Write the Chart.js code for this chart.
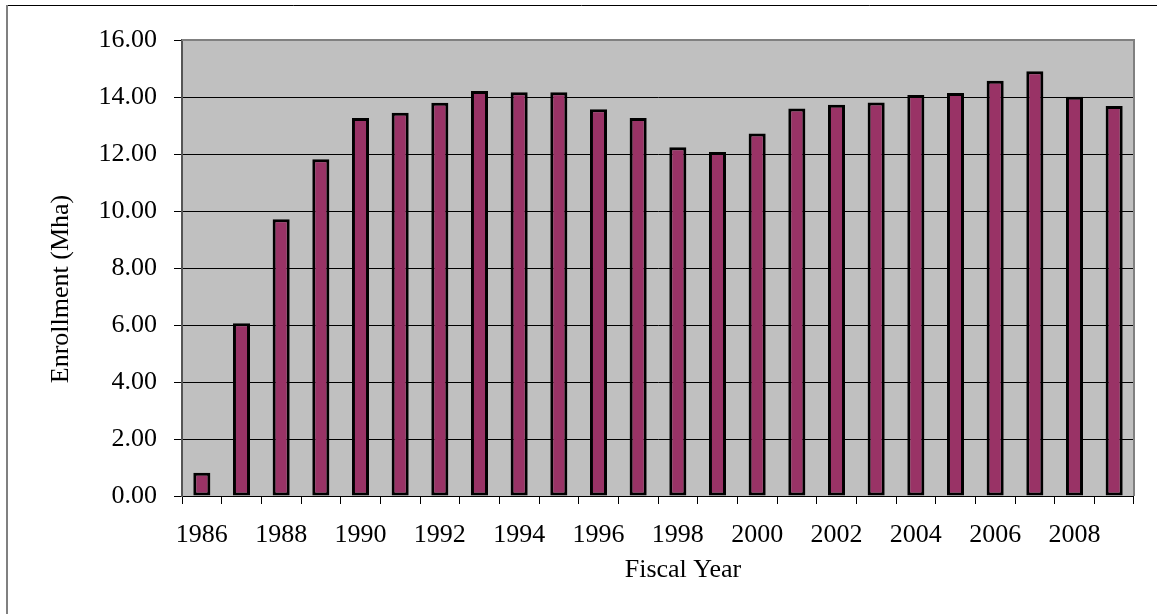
<!DOCTYPE html>
<html>
<head>
<meta charset="utf-8">
<script src="https://cdn.jsdelivr.net/npm/chart.js@4/dist/chart.umd.min.js"></script>
<style>
  html, body { margin: 0; padding: 0; background: #fff; }
  #wrap { width: 1157px; height: 614px; position: relative; }
</style>
</head>
<body>
<div id="wrap"><canvas id="chart"></canvas></div>
<script>
// enrollment by fiscal year (million ha)
const years = ['1986', '1987', '1988', '1989', '1990', '1991', '1992', '1993',
               '1994', '1995', '1996', '1997', '1998', '1999', '2000', '2001',
               '2002', '2003', '2004', '2005', '2006', '2007', '2008', '2009'];
const enrollment = [0.82, 6.06, 9.71, 11.82, 13.26, 13.45, 13.80, 14.21,
                    14.17, 14.17, 13.57, 13.26, 12.24, 12.07, 12.72, 13.60,
                    13.73, 13.81, 14.07, 14.14, 14.57, 14.90, 14.01, 13.68];
const yTicks = [0, 2, 4, 6, 8, 10, 12, 14, 16];

const serif = '"Liberation Serif", "Times New Roman", serif';

// grey plot background, plot frame, outer frame and axis titles
const frame = {
    id: 'frame',
    beforeDraw(chart) {
        const { ctx, chartArea: a } = chart;
        ctx.save();
        ctx.fillStyle = '#c0c0c0';
        ctx.fillRect(a.left, a.top, a.right - a.left, a.bottom - a.top);
        ctx.restore();
    },
    afterDatasetsDraw(chart) {
        const { ctx, chartArea: a } = chart;
        ctx.save();
        ctx.strokeStyle = '#808080';
        ctx.lineWidth = 2;
        ctx.beginPath();
        ctx.moveTo(a.left, a.top);
        ctx.lineTo(a.right, a.top);
        ctx.lineTo(a.right, a.bottom);
        ctx.stroke();

        // outer border
        ctx.lineWidth = 1;
        ctx.strokeStyle = '#000';
        ctx.beginPath();
        ctx.moveTo(6, 5.5);
        ctx.lineTo(1157, 5.5);
        ctx.stroke();
        ctx.strokeStyle = '#808080';
        ctx.lineWidth = 2;
        ctx.beginPath();
        ctx.moveTo(7, 5);
        ctx.lineTo(7, 614);
        ctx.stroke();

        // axis titles
        ctx.fillStyle = '#000';
        ctx.font = '26px ' + serif;
        ctx.textAlign = 'center';
        ctx.textBaseline = 'middle';
        ctx.fillText('Fiscal Year', 683, 570);
        ctx.translate(61, 289);
        ctx.rotate(-Math.PI / 2);
        ctx.fillText('Enrollment (Mha)', 0, 0);
        ctx.restore();
    }
};

new Chart(document.getElementById('chart'), {
    type: 'bar',
    data: {
        labels: years,
        datasets: [{
            data: enrollment,
            backgroundColor: '#993366',
            borderColor: '#000',
            borderWidth: 3,
            borderSkipped: false,
            categoryPercentage: 1,
            barPercentage: 0.43
        }]
    },
    options: {
        responsive: true,
        maintainAspectRatio: false,
        animation: false,
        layout: { padding: { left: 0, top: 40, right: 23, bottom: 0 } },
        plugins: {
            legend: { display: false },
            tooltip: { enabled: false }
        },
        scales: {
            x: {
                afterFit(scale) { scale.height = 118; },
                grid: {
                    offset: true,
                    drawOnChartArea: false,
                    drawTicks: true,
                    tickLength: 8,
                    color: '#000'
                },
                border: { display: false },
                ticks: {
                    autoSkip: false,
                    maxRotation: 0,
                    padding: 16,
                    color: '#000',
                    font: { family: serif, size: 26 },
                    callback: (v, i) => (i % 2 === 0 ? years[i] : '')
                }
            },
            y: {
                min: 0,
                max: 16,
                afterFit(scale) { scale.width = 182; },
                afterBuildTicks(scale) { scale.ticks = yTicks.map(v => ({ value: v })); },
                grid: {
                    color: '#000',
                    lineWidth: 1,
                    tickLength: 8
                },
                border: { color: '#555', width: 2 },
                ticks: {
                    padding: 17,
                    color: '#000',
                    font: { family: serif, size: 26 },
                    callback: v => v.toFixed(2)
                }
            }
        }
    },
    plugins: [frame]
});
</script>
</body>
</html>
